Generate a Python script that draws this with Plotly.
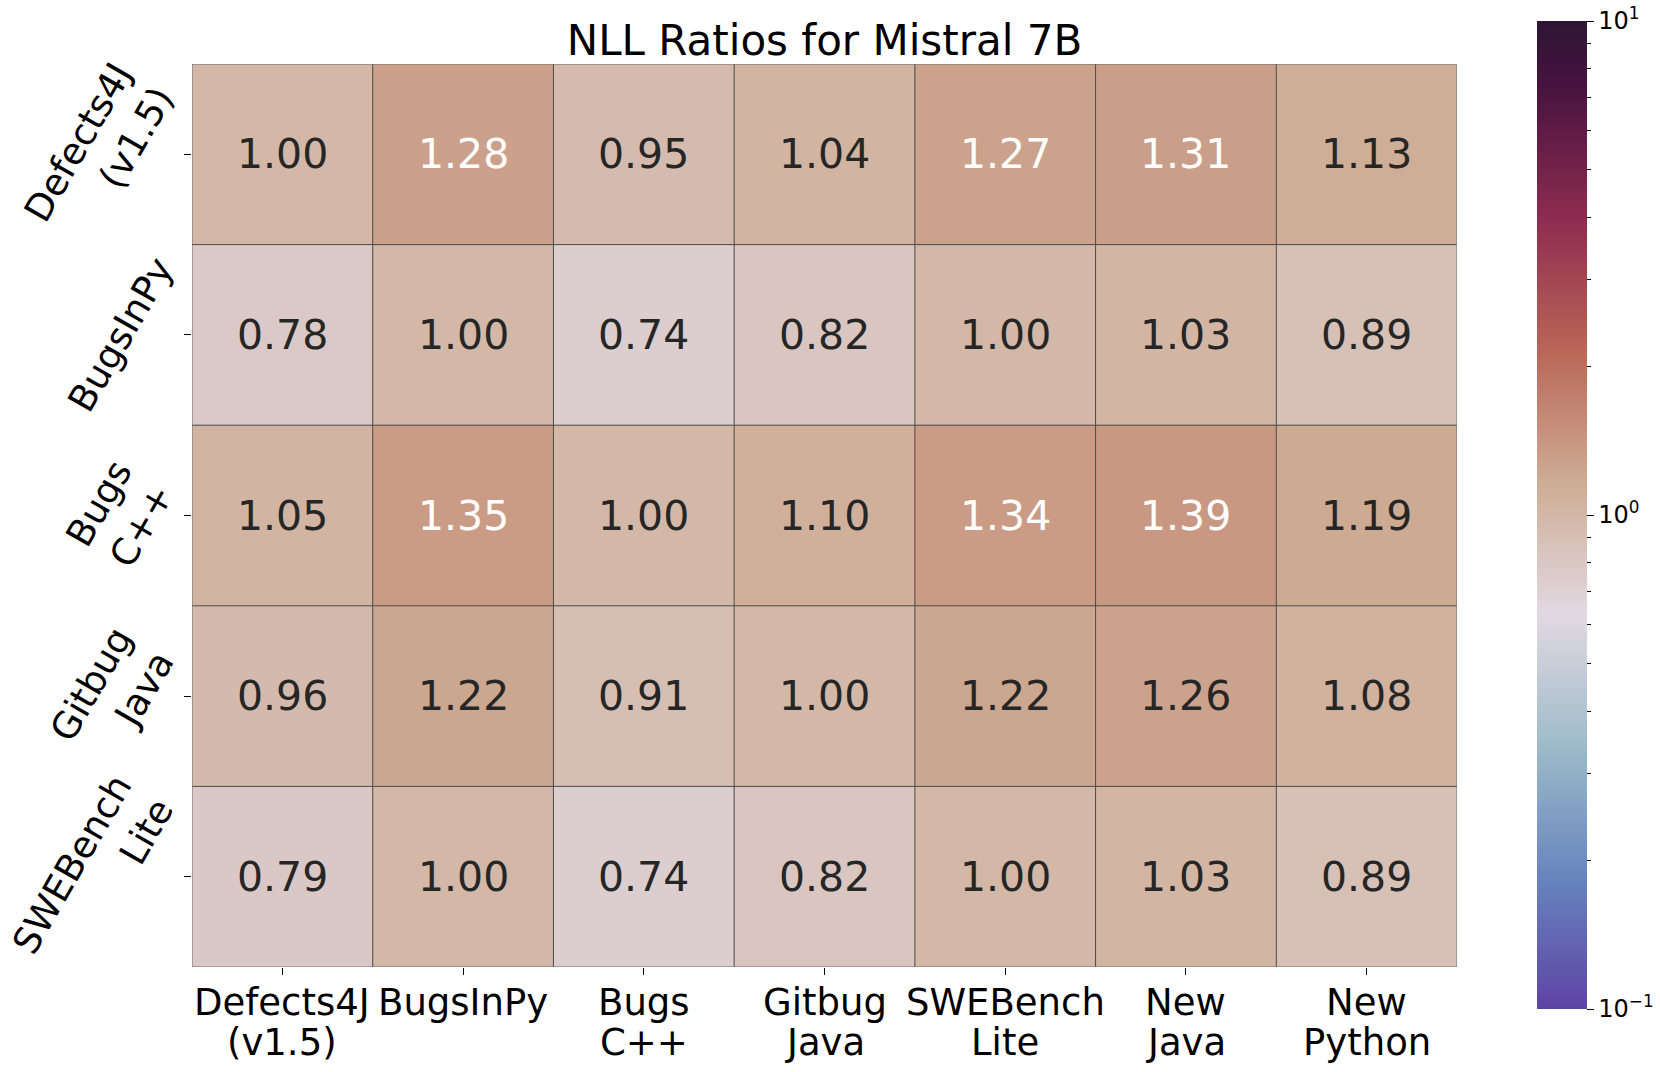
import numpy as np
import plotly.graph_objects as go

# ---------------- data ----------------
row_labels = ["Defects4J<br>(v1.5)", "BugsInPy", "Bugs<br>C++", "Gitbug<br>Java", "SWEBench<br>Lite"]
col_labels = ["Defects4J<br>(v1.5)", "BugsInPy", "Bugs<br>C++", "Gitbug<br>Java",
              "SWEBench<br>Lite", "New<br>Java", "New<br>Python"]

row_defects4j = [1.00, 1.28, 0.95, 1.04, 1.27, 1.31, 1.13]
row_bugsinpy = [0.78, 1.00, 0.74, 0.82, 1.00, 1.03, 0.89]
row_bugscpp = [1.05, 1.35, 1.00, 1.10, 1.34, 1.39, 1.19]
row_gitbug = [0.96, 1.22, 0.91, 1.00, 1.22, 1.26, 1.08]
row_swebench = [0.79, 1.00, 0.74, 0.82, 1.00, 1.03, 0.89]

title_text = "NLL Ratios for Mistral 7B"
cbar_major = [0.1, 1.0, 10.0]
cbar_major_text = ["10<sup>\u22121</sup>", "10<sup>0</sup>", "10<sup>1</sup>"]
cbar_minor = [m * d for d in (0.1, 1.0) for m in range(2, 10)]

ratios = np.array([row_defects4j, row_bugsinpy, row_bugscpp, row_gitbug, row_swebench])
logz = np.log10(ratios)
n_rows, n_cols = ratios.shape

# ---------------- colour map (twilight, shifted) ----------------
tw_pos = [0, 1/9, 2/9, 3/9, 4/9, 0.5, 5/9, 6/9, 7/9, 8/9, 1.0]
tw_hex = ["#e2d9e2", "#9ebbc9", "#6785be", "#5e43a5", "#421257", "#2f1436",
          "#471340", "#8e2c50", "#ba6657", "#ceac94", "#e2d9e2"]
tw_rgb = np.array([[int(h[i:i + 2], 16) for i in (1, 3, 5)] for h in tw_hex], dtype=float)


def cmap(f):
    s = 0.167 + 0.833 * f
    t = (0.5 - s) % 1.0
    return np.array([np.interp(t, tw_pos, tw_rgb[:, k]) for k in range(3)])


N = 80
colorscale = []
for k in range(N + 1):
    f = k / N
    r, g, b = cmap(f)
    colorscale.append([f, f"rgb({r:.0f},{g:.0f},{b:.0f})"])


def rel_lum(rgb):
    c = rgb / 255.0
    c = np.where(c <= 0.03928, c / 12.92, ((c + 0.055) / 1.055) ** 2.4)
    return 0.2126 * c[0] + 0.7152 * c[1] + 0.0722 * c[2]


FONT = "DejaVu Sans"
W, H = 1660, 1072
L, R, T, B = 192, 203, 64, 105
pw, ph = W - L - R, H - T - B

cb_common = dict(
    thickness=50, thicknessmode="pixels",
    len=988 / ph, lenmode="fraction",
    x=(1537 - L) / pw, xanchor="left", xpad=0,
    y=(H - B - 515) / ph, yanchor="middle", ypad=0,
    outlinewidth=0,
    ticks="outside", tickcolor="#000000", tickwidth=1.2,
)

fig = go.Figure()
fig.add_trace(go.Heatmap(
    z=logz, x=list(range(n_cols)), y=list(range(n_rows)),
    zmin=-1, zmax=1, colorscale=colorscale, hoverinfo="skip",
    colorbar=dict(**cb_common, ticklen=7,
                  tickvals=list(np.log10(cbar_major)), ticktext=cbar_major_text,
                  tickfont=dict(family=FONT, size=24, color="#000000")),
))
fig.add_trace(go.Heatmap(
    z=logz, x=list(range(n_cols)), y=list(range(n_rows)),
    zmin=-1, zmax=1, colorscale=colorscale, hoverinfo="skip",
    colorbar=dict(**cb_common, ticklen=4, showticklabels=False,
                  tickvals=list(np.log10(cbar_minor))),
))

# cell annotations
for i in range(n_rows):
    for j in range(n_cols):
        f = (logz[i, j] + 1) / 2
        col = "#262626" if rel_lum(cmap(f)) > 0.408 else "#ffffff"
        fig.add_annotation(x=j, y=i, xref="x", yref="y", text=f"{ratios[i, j]:.2f}",
                           showarrow=False, font=dict(family=FONT, size=41, color=col))

# rotated y tick labels (right-aligned on the rotated box, like matplotlib)
for i, lab in enumerate(row_labels):
    fig.add_annotation(x=0, y=i, xref="paper", yref="y", text=lab, textangle=-60,
                       xanchor="right", yanchor="middle", align="right", xshift=-7,
                       showarrow=False, font=dict(family=FONT, size=37, color="#000000"))

# x tick labels, one annotation per line (matplotlib-like line spacing)
for j, lab in enumerate(col_labels):
    for k, line in enumerate(lab.split("<br>")):
        fig.add_annotation(x=j, y=0, xref="x", yref="paper", text=line,
                           xanchor="center", yanchor="top", yshift=-12 - 40 * k,
                           showarrow=False, font=dict(family=FONT, size=37, color="#000000"))

# cell edges
for j in range(1, n_cols):
    fig.add_shape(type="line", xref="x", yref="y", x0=j - 0.5, x1=j - 0.5, y0=-0.5, y1=n_rows - 0.5,
                  line=dict(color="#4a4a4a", width=1))
for i in range(1, n_rows):
    fig.add_shape(type="line", xref="x", yref="y", x0=-0.5, x1=n_cols - 0.5, y0=i - 0.5, y1=i - 0.5,
                  line=dict(color="#4a4a4a", width=1))
fig.add_shape(type="rect", xref="x", yref="y", x0=-0.5, x1=n_cols - 0.5, y0=-0.5, y1=n_rows - 0.5,
              line=dict(color="#6e6e6e", width=1))

fig.update_layout(
    width=W, height=H,
    margin=dict(l=L, r=R, t=T, b=B, autoexpand=False),
    paper_bgcolor="#ffffff", plot_bgcolor="#ffffff",
    font=dict(family=FONT, color="#000000"),
    title=dict(text=title_text, x=(L + pw / 2) / W, xanchor="center",
               y=1 - 40 / H, yanchor="middle",
               font=dict(family=FONT, size=42, color="#000000")),
    xaxis=dict(range=[-0.5, n_cols - 0.5], tickvals=list(range(n_cols)), ticktext=col_labels,
               ticks="outside", ticklen=7, tickwidth=1.2, tickcolor="#000000",
               showticklabels=False, automargin=False,
               showgrid=False, zeroline=False, showline=False),
    yaxis=dict(range=[n_rows - 0.5, -0.5], tickvals=list(range(n_rows)), ticktext=row_labels,
               ticks="outside", ticklen=7, tickwidth=1.2, tickcolor="#000000",
               showticklabels=False, automargin=False,
               showgrid=False, zeroline=False, showline=False),
)

fig.write_html(
    "out.html",
    config={"displayModeBar": False},
    post_script="document.body.style.margin='0';document.body.style.overflow='hidden';",
)
